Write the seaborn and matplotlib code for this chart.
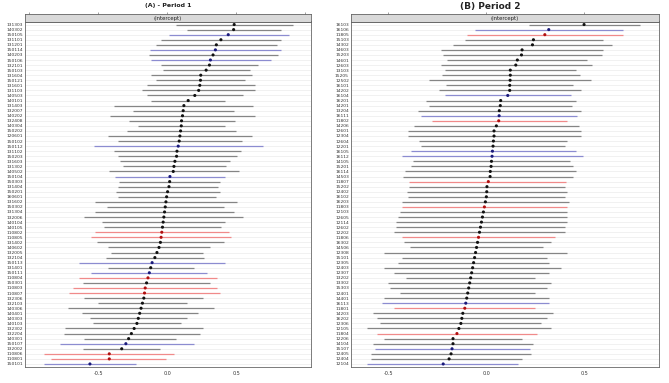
import numpy as np
import pandas as pd
import matplotlib
matplotlib.use("Agg")
import matplotlib.pyplot as plt
import seaborn as sns

# ---------------- Panel A : Period 1 ----------------
labels_a = ["131303", "140302", "150105", "131101", "131201", "150114", "140203", "150106",
            "132101", "150103", "131604", "150121", "131601", "131103", "140503", "140101",
            "131403", "132007", "140202", "132408", "140304", "150202", "120601", "150102",
            "150112", "131102", "150203", "131603", "131302", "140502", "150104", "150303",
            "131404", "150201", "160601", "131602", "150302", "131304", "132006", "140104",
            "140105", "110802", "110805", "131402", "140602", "132005", "132104", "150113",
            "131401", "150111", "110804", "150301", "110803", "110807", "132306", "132103",
            "140306", "140401", "140303", "140103", "132302", "132204", "140301", "150107",
            "132002", "110806", "110801", "150101"]
est_a = [0.484, 0.480, 0.441, 0.388, 0.355, 0.348, 0.331, 0.312, 0.305, 0.281, 0.242, 0.240,
         0.235, 0.227, 0.199, 0.151, 0.120, 0.115, 0.110, 0.103, 0.101, 0.096, 0.091, 0.086,
         0.079, 0.070, 0.067, 0.055, 0.048, 0.043, 0.019, 0.017, 0.012, 0.002, -0.005, -0.010,
         -0.015, -0.020, -0.025, -0.030, -0.035, -0.040, -0.045, -0.050, -0.060, -0.075, -0.090,
         -0.110, -0.120, -0.130, -0.140, -0.150, -0.160, -0.165, -0.170, -0.180, -0.190, -0.200,
         -0.210, -0.220, -0.240, -0.260, -0.280, -0.300, -0.330, -0.420, -0.420, -0.560]
lo_a = [0.060, 0.139, 0.012, -0.043, -0.084, -0.127, -0.132, -0.115, -0.043, -0.031, -0.120,
        -0.084, -0.149, -0.180, -0.149, -0.120, -0.388, -0.245, -0.412, -0.276, -0.209, -0.295,
        -0.427, -0.360, -0.528, -0.388, -0.360, -0.341, -0.324, -0.420, -0.376, -0.348, -0.360,
        -0.372, -0.360, -0.525, -0.440, -0.525, -0.600, -0.475, -0.460, -0.525, -0.554, -0.510,
        -0.430, -0.410, -0.446, -0.640, -0.430, -0.550, -0.640, -0.610, -0.680, -0.710, -0.600,
        -0.500, -0.720, -0.620, -0.560, -0.540, -0.740, -0.750, -0.600, -0.780, -0.610, -0.890,
        -0.840, -0.890]
hi_a = [0.911, 0.820, 0.883, 0.820, 0.796, 0.820, 0.803, 0.751, 0.659, 0.595, 0.616, 0.564,
        0.635, 0.635, 0.547, 0.420, 0.623, 0.480, 0.635, 0.492, 0.415, 0.496, 0.612, 0.540,
        0.691, 0.532, 0.504, 0.456, 0.427, 0.516, 0.420, 0.384, 0.365, 0.379, 0.350, 0.505,
        0.410, 0.485, 0.550, 0.415, 0.390, 0.445, 0.464, 0.410, 0.310, 0.260, 0.266, 0.420,
        0.190, 0.290, 0.360, 0.310, 0.360, 0.380, 0.260, 0.140, 0.340, 0.220, 0.140, 0.100,
        0.260, 0.240, 0.060, 0.190, -0.050, 0.050, -0.010, -0.230]
grp_a = ["g", "g", "b", "g", "g", "b", "g", "b", "g", "g", "g", "g", "g", "g", "g", "g",
         "g", "g", "g", "g", "g", "g", "g", "g", "b", "g", "g", "g", "g", "g", "b", "g",
         "g", "g", "g", "g", "g", "g", "g", "g", "g", "r", "r", "g", "g", "g", "g", "b",
         "g", "b", "r", "g", "r", "r", "g", "g", "g", "g", "g", "g", "g", "g", "g", "b",
         "g", "r", "r", "b"]

# ---------------- Panel B : Period 2 ----------------
labels_b = ["16103", "16106", "11805", "15103", "14302", "14603", "15203", "14601",
            "12603", "13103", "15205", "12502", "16101", "14202", "16104", "16201",
            "14201", "13204", "16111", "11802", "14206", "12601", "12304", "12604",
            "12201", "16105", "16112", "14105", "15201", "16114", "14503", "11807",
            "15202", "12402", "16102", "16203", "11803", "12103", "12605", "12114",
            "12602", "12202", "11806", "16302", "14506", "12308", "15101", "12305",
            "12403", "12307", "13202", "13302", "15303", "12401", "14401", "16113",
            "11801", "14203", "16202", "12306", "12105", "11804", "12206", "14104",
            "15107", "12405", "12404", "12104"]
est_b = [0.498, 0.318, 0.298, 0.240, 0.235, 0.182, 0.179, 0.158, 0.150, 0.122, 0.122, 0.121,
         0.119, 0.119, 0.109, 0.073, 0.071, 0.066, 0.065, 0.063, 0.051, 0.039, 0.039, 0.036,
         0.034, 0.031, 0.029, 0.026, 0.024, 0.020, 0.019, 0.010, 0.003, 0.002, 0.000, -0.005,
         -0.010, -0.015, -0.020, -0.025, -0.030, -0.035, -0.040, -0.045, -0.050, -0.055, -0.060,
         -0.065, -0.070, -0.075, -0.080, -0.085, -0.090, -0.095, -0.100, -0.105, -0.110, -0.120,
         -0.125, -0.130, -0.140, -0.150, -0.170, -0.170, -0.175, -0.180, -0.190, -0.220]
lo_b = [0.218, -0.058, -0.097, -0.109, -0.168, -0.230, -0.221, -0.202, -0.233, -0.211, -0.228,
        -0.293, -0.207, -0.241, -0.213, -0.308, -0.293, -0.347, -0.332, -0.279, -0.369, -0.398,
        -0.398, -0.344, -0.335, -0.383, -0.429, -0.372, -0.386, -0.417, -0.423, -0.395, -0.392,
        -0.405, -0.400, -0.430, -0.430, -0.440, -0.450, -0.460, -0.460, -0.470, -0.430, -0.420,
        -0.390, -0.520, -0.430, -0.450, -0.520, -0.470, -0.410, -0.500, -0.490, -0.440, -0.520,
        -0.530, -0.470, -0.580, -0.560, -0.540, -0.610, -0.560, -0.520, -0.580, -0.570, -0.590,
        -0.590, -0.610]
hi_b = [0.784, 0.699, 0.699, 0.592, 0.639, 0.595, 0.587, 0.515, 0.536, 0.459, 0.476, 0.532,
        0.442, 0.481, 0.430, 0.456, 0.436, 0.481, 0.461, 0.410, 0.473, 0.481, 0.481, 0.413,
        0.401, 0.456, 0.493, 0.427, 0.442, 0.456, 0.444, 0.405, 0.400, 0.413, 0.400, 0.420,
        0.410, 0.410, 0.410, 0.410, 0.400, 0.400, 0.350, 0.330, 0.290, 0.410, 0.310, 0.320,
        0.380, 0.320, 0.250, 0.330, 0.310, 0.250, 0.320, 0.320, 0.250, 0.340, 0.310, 0.280,
        0.330, 0.260, 0.180, 0.240, 0.220, 0.225, 0.180, 0.160]
grp_b = ["g", "b", "r", "g", "g", "g", "g", "g", "g", "g", "g", "g", "g", "g", "b", "g",
         "g", "g", "b", "r", "g", "g", "g", "g", "g", "b", "b", "g", "g", "g", "g", "r",
         "g", "g", "g", "g", "r", "g", "g", "g", "g", "g", "r", "g", "g", "g", "g", "g",
         "g", "g", "g", "g", "g", "g", "g", "b", "r", "g", "g", "g", "g", "r", "g", "g",
         "b", "g", "g", "b"]

line_colors = {"g": "#858585", "b": "#8c8cd0", "r": "#f08a8a"}
dot_colors = {"g": "#111111", "b": "#1a1a7a", "r": "#b01010"}

sns.set_theme(style="white")
plt.rcParams["font.family"] = ["DejaVu Sans"]

W, H = 669, 383
fig = plt.figure(figsize=(W / 100, H / 100), dpi=100)


def panel(x0, x1, labels, est, lo, hi, grp, xlim, ticks, ticklabels, title, tsize, tx):
    df = pd.DataFrame({"label": labels, "est": est, "lo": lo, "hi": hi, "grp": grp})
    df["pos"] = np.arange(len(df))
    top_strip, bot_strip, bot = 14, 21.5, 367
    ax = fig.add_axes([x0 / W, 1 - bot / H, (x1 - x0) / W, (bot - bot_strip) / H])
    st = fig.add_axes([x0 / W, 1 - bot_strip / H, (x1 - x0) / W, (bot_strip - top_strip) / H])
    for p in df["pos"]:
        ax.axhline(p, color="#ececec", lw=0.5, zorder=0)
    ax.hlines(df["pos"], df["lo"], df["hi"], colors=df["grp"].map(line_colors), lw=0.9, zorder=2)
    sns.scatterplot(data=df, x="est", y="pos", hue="grp", palette=dot_colors, s=5,
                    linewidth=0, legend=False, ax=ax, zorder=3)
    n = len(df)
    ax.set_ylim(n - 0.4, -0.6)
    ax.set_xlim(*xlim)
    ax.set_yticks(df["pos"])
    ax.set_yticklabels(df["label"], fontsize=3.2, color="#333333")
    ax.set_xticks(ticks)
    ax.set_xticklabels(ticklabels, fontsize=3.5, color="#333333")
    ax.tick_params(axis="y", length=0, pad=1.5)
    ax.tick_params(axis="x", length=1.5, width=0.4, pad=1.5, color="#555555")
    ax.set_xlabel("")
    ax.set_ylabel("")
    for s in ax.spines.values():
        s.set_color("#666666")
        s.set_linewidth(0.6)
    st.set_facecolor("#d9d9d9")
    st.set_xlim(*xlim)
    st.set_ylim(0, 1)
    st.set_yticks([])
    st.set_xticks(ticks)
    st.tick_params(axis="x", bottom=False, labelbottom=False, top=True, labeltop=False,
                   length=1.5, width=0.4, color="#555555")
    for s in st.spines.values():
        s.set_color("#666666")
        s.set_linewidth(0.6)
    st.text(0.5, 0.45, "(Intercept)", transform=st.transAxes, ha="center", va="center",
            fontsize=3.8, color="#222222")
    fig.text(tx / W, 1 - 6 / H, title, ha="center", va="center", fontsize=tsize,
             fontweight="bold", color="#222222")
    return ax


panel(25, 311, labels_a, est_a, lo_a, hi_a, grp_a, (-1.03, 1.04),
      [-1.0, -0.5, 0.0, 0.5, 1.0], ["", "-0.5", "0.0", "0.5", ""],
      "(A) - Period 1", 4.5, 168)
panel(351, 659, labels_b, est_b, lo_b, hi_b, grp_b, (-0.69, 0.88),
      [-0.5, 0.0, 0.5], ["-0.5", "0.0", "0.5"],
      "(B) Period 2", 6.5, 490)

fig.savefig("out.png", dpi=100)
